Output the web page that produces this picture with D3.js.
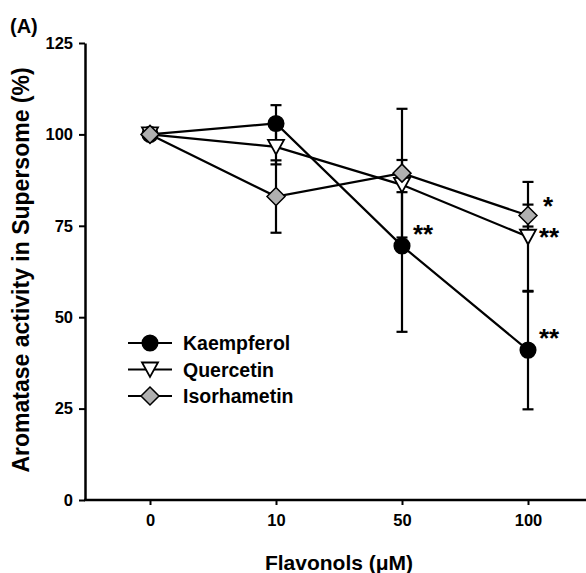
<!DOCTYPE html>
<html>
<head>
<meta charset="utf-8">
<script src="https://cdn.jsdelivr.net/npm/d3@7"></script>
<style>
  body { margin: 0; background: #fff; }
  svg { display: block; font-family: "Liberation Sans", Arial, sans-serif; }
</style>
</head>
<body>
<svg id="chart" width="586" height="573"></svg>
<script>
const doses = ["0", "10", "50", "100"];
const yTicks = [0, 25, 50, 75, 100, 125];

const kaempferolMean = [100, 103, 69.5, 41];
const kaempferolSd = [0, 5, 23.5, 16.2];
const quercetinMean = [100, 96.6, 86.2, 72];
const quercetinSd = [0, 4.8, 2, 15];
const isorhametinMean = [100, 83, 89.4, 77.8];
const isorhametinSd = [0, 9.9, 17.6, 3];

// significance marks: series, dose, label
const starSeries = ["Kaempferol", "Kaempferol", "Quercetin", "Isorhametin"];
const starDose = ["50", "100", "100", "100"];
const starText = ["**", "**", "**", "*"];

const series = [
  { name: "Kaempferol", mean: kaempferolMean, sd: kaempferolSd, shape: "circle", fill: "#000" },
  { name: "Quercetin", mean: quercetinMean, sd: quercetinSd, shape: "triangle", fill: "#fff" },
  { name: "Isorhametin", mean: isorhametinMean, sd: isorhametinSd, shape: "diamond", fill: "#b0b0b0" }
];

const svg = d3.select("#chart");

const x = d3.scalePoint().domain(doses).range([150, 528]);
const y = d3.scaleLinear().domain([0, 125]).range([500, 43]);

function marker(sel, shape, fill) {
  if (shape === "circle") {
    sel.append("circle").attr("r", 7.8).attr("fill", fill).attr("stroke", "#000").attr("stroke-width", 1.5);
  } else if (shape === "triangle") {
    sel.append("path").attr("d", "M-8,-7L8,-7L0,7.5Z").attr("fill", fill).attr("stroke", "#000").attr("stroke-width", 1.8);
  } else {
    sel.append("path").attr("d", "M0,-9L9,0L0,9L-9,0Z").attr("fill", fill).attr("stroke", "#000").attr("stroke-width", 1.5);
  }
}

// axes
const yAxis = svg.append("g")
  .attr("transform", "translate(85,0)")
  .call(d3.axisLeft(y).tickValues(yTicks).tickSize(6).tickSizeOuter(0).tickPadding(6));
yAxis.select(".domain").attr("stroke-width", 2.5);
yAxis.selectAll(".tick line").attr("stroke-width", 2);
yAxis.selectAll("text").attr("font-size", 16.5).attr("font-weight", "bold").attr("fill", "#000");

const xAxis = svg.append("g")
  .attr("transform", "translate(0,500)")
  .call(d3.axisBottom(x).tickSize(5).tickSizeOuter(0).tickPadding(9));
xAxis.select(".domain").remove();
xAxis.selectAll(".tick line").attr("stroke-width", 2);
xAxis.selectAll("text").attr("font-size", 16.5).attr("font-weight", "bold").attr("fill", "#000");
svg.append("line")
  .attr("x1", 84).attr("x2", 586).attr("y1", 500).attr("y2", 500)
  .attr("stroke", "#000").attr("stroke-width", 2.5);

// error bars
series.forEach(s => {
  const g = svg.append("g");
  doses.forEach((d, i) => {
    if (!s.sd[i]) return;
    const cx = x(d), top = y(s.mean[i] + s.sd[i]), bot = y(s.mean[i] - s.sd[i]);
    g.append("line").attr("x1", cx).attr("x2", cx).attr("y1", top).attr("y2", bot)
      .attr("stroke", "#000").attr("stroke-width", 2.2);
    [top, bot].forEach(v => g.append("line")
      .attr("x1", cx - 5.5).attr("x2", cx + 5.5).attr("y1", v).attr("y2", v)
      .attr("stroke", "#000").attr("stroke-width", 2.2));
  });
});

// lines
const line = d3.line().x((v, i) => x(doses[i])).y(v => y(v));
series.forEach(s => {
  svg.append("path").attr("d", line(s.mean))
    .attr("fill", "none").attr("stroke", "#000").attr("stroke-width", 2.2);
});

// markers
series.forEach(s => {
  s.mean.forEach((v, i) => {
    const g = svg.append("g").attr("transform", `translate(${x(doses[i])},${y(v)})`);
    marker(g, s.shape, s.fill);
  });
});

// stars
starText.forEach((t, i) => {
  const s = series.find(q => q.name === starSeries[i]);
  const j = doses.indexOf(starDose[i]);
  const v = s.mean[j];
  const dy = { Kaempferol: -16, Quercetin: -4, Isorhametin: -14 }[s.name];
  svg.append("text")
    .attr("x", x(starDose[i]) + (s.name === "Isorhametin" ? 15 : 11))
    .attr("y", y(v) + dy + 13)
    .attr("font-size", 26).attr("font-weight", "bold")
    .text(t);
});

// legend
const legend = svg.append("g");
series.forEach((s, i) => {
  const ly = 343 + i * 26.5;
  legend.append("line").attr("x1", 128).attr("x2", 172).attr("y1", ly).attr("y2", ly)
    .attr("stroke", "#000").attr("stroke-width", 2.2);
  marker(legend.append("g").attr("transform", `translate(150,${ly})`), s.shape, s.fill);
  legend.append("text").attr("x", 183).attr("y", ly).attr("dy", "0.36em")
    .attr("font-size", 19.5).attr("font-weight", "bold").text(s.name);
});

// titles
svg.append("text").attr("x", 10).attr("y", 33)
  .attr("font-size", 20).attr("font-weight", "bold").text("(A)");

svg.append("text")
  .attr("transform", "translate(29,270) rotate(-90)")
  .attr("text-anchor", "middle")
  .attr("font-size", 23).attr("font-weight", "bold")
  .text("Aromatase activity in Supersome (%)");

svg.append("text")
  .attr("x", 339).attr("y", 570)
  .attr("text-anchor", "middle")
  .attr("font-size", 21).attr("font-weight", "bold")
  .text("Flavonols (\u03bcM)");
</script>
</body>
</html>
